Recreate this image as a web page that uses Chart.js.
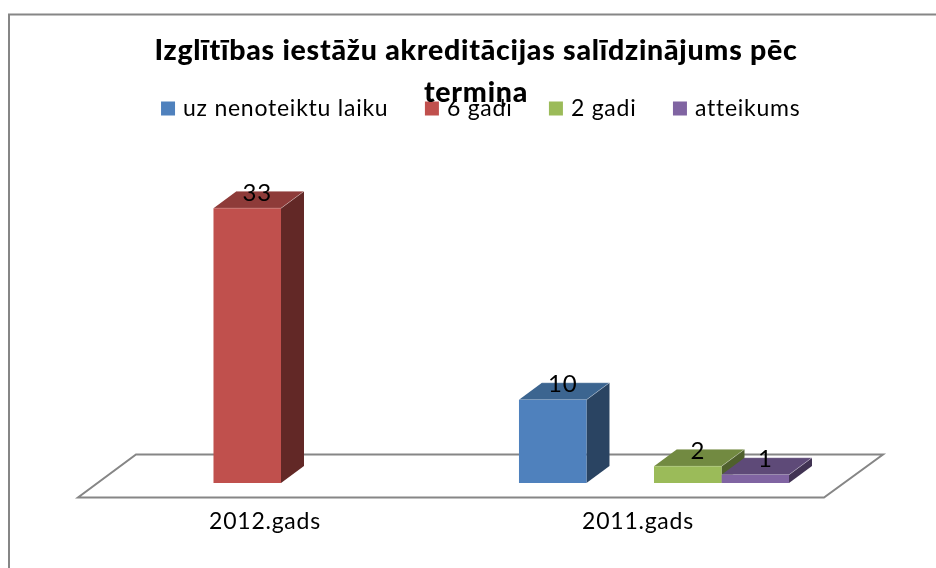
<!DOCTYPE html>
<html><head><meta charset="utf-8">
<style>html,body{margin:0;padding:0;background:#fff}canvas{display:block}</style>
<script src="https://cdn.jsdelivr.net/npm/chart.js@4"></script>
</head><body><canvas id="c" width="936" height="568"></canvas>
<script>
const categories = ["2012.gads", "2011.gads"];
const seriesNames = ["uz nenoteiktu laiku", "6 gadi", "2 gadi", "atteikums"];
const valuesIndefinite = [null, 10];
const valuesSixYears = [33, null];
const valuesTwoYears = [null, 2];
const valuesRefused = [null, 1];
const chartTitle = ["Izglītības iestāžu akreditācijas salīdzinājums pēc", "termiņa"];

const frontColors = ["#4F81BD", "#C0504D", "#9BBB59", "#8064A2"];
const topColors = ["#3C6590", "#8E3B39", "#728A41", "#5E4A78"];
const sideColors = ["#2A4462", "#622826", "#4F602D", "#413353"];
const DEPTH_X = 23, DEPTH_Y = 17;
const FONT = "Lato, Carlito, 'Noto Sans', sans-serif";

const poly = (ctx, pts, fill) => {
  ctx.beginPath();
  pts.forEach((p, i) => i ? ctx.lineTo(p[0], p[1]) : ctx.moveTo(p[0], p[1]));
  ctx.closePath();
  ctx.fillStyle = fill;
  ctx.fill();
};

const offsets = {
  id: "offsets",
  beforeLayout(chart) {
    chart.ctx.letterSpacing = "0.75px";
  },
  afterLayout(chart) {
    chart.titleBlock.left += 8.5; chart.titleBlock.right += 8.5;
    chart.legend.left += 15; chart.legend.right += 15;
  }
};

const frame = {
  id: "frame",
  beforeDraw(chart) {
    const ctx = chart.ctx;
    ctx.save();
    ctx.strokeStyle = "#868686";
    ctx.lineWidth = 2;
    ctx.beginPath();
    ctx.moveTo(9, 568); ctx.lineTo(9, 14.5); ctx.lineTo(936, 14.5);
    ctx.stroke();
    ctx.restore();
  }
};

const box3d = {
  id: "box3d",
  beforeDatasetsDraw(chart) {
    const ctx = chart.ctx, xs = chart.scales.x, base = chart.scales.y.bottom;
    ctx.save();
    ctx.strokeStyle = "#868686";
    ctx.lineWidth = 2;
    ctx.beginPath();
    ctx.moveTo(xs.left - 16.5, base + 14.5);
    ctx.lineTo(xs.right - 16.5, base + 14.5);
    ctx.lineTo(xs.right + 42.5, base - 28.5);
    ctx.lineTo(xs.left + 41.5, base - 28.5);
    ctx.closePath();
    ctx.stroke();
    chart.data.datasets.forEach((ds, i) => {
      chart.getDatasetMeta(i).data.forEach((el, j) => {
        if (ds.data[j] == null) return;
        const l = el.x - el.width / 2, r = el.x + el.width / 2, t = el.y, b = el.base;
        poly(ctx, [[r, t], [r + DEPTH_X, t - DEPTH_Y], [r + DEPTH_X, b - DEPTH_Y], [r, b]], sideColors[i]);
        poly(ctx, [[l, t], [r, t], [r + DEPTH_X, t - DEPTH_Y], [l + DEPTH_X, t - DEPTH_Y]], topColors[i]);
        ctx.strokeStyle = "rgba(255,255,255,0.3)";
        ctx.lineWidth = 1;
        ctx.beginPath();
        ctx.moveTo(l, t); ctx.lineTo(r, t);
        ctx.lineTo(r + DEPTH_X, t - DEPTH_Y); ctx.lineTo(l + DEPTH_X, t - DEPTH_Y);
        ctx.stroke();
      });
    });
    ctx.restore();
  },
  afterDatasetsDraw(chart) {
    const ctx = chart.ctx;
    ctx.save();
    ctx.font = "24px " + FONT;
    ctx.fillStyle = "#000";
    ctx.textAlign = "center";
    ctx.textBaseline = "middle";
    chart.data.datasets.forEach((ds, i) => {
      chart.getDatasetMeta(i).data.forEach((el, j) => {
        if (ds.data[j] == null) return;
        ctx.fillText(String(ds.data[j]), el.x + 10, el.y - 15);
      });
    });
    ctx.restore();
  }
};

const allValues = [valuesIndefinite, valuesSixYears, valuesTwoYears, valuesRefused];
new Chart(document.getElementById("c"), {
  type: "bar",
  data: {
    labels: categories,
    datasets: seriesNames.map((name, i) => ({
      label: name,
      data: allValues[i],
      backgroundColor: frontColors[i],
      borderWidth: 0,
      categoryPercentage: 0.724,
      barPercentage: 1
    }))
  },
  plugins: [offsets, frame, box3d],
  options: {
    responsive: false,
    animation: false,
    layout: { padding: { left: 94.5, right: 95.5, top: 0, bottom: 0 } },
    plugins: {
      tooltip: { enabled: false },
      title: {
        display: true,
        text: chartTitle,
        color: "#000",
        font: { family: FONT, size: 28.5, weight: 900, lineHeight: 1.46 },
        padding: { top: 30, bottom: -56.2 }
      },
      legend: {
        display: true,
        position: "top",
        labels: {
          color: "#000",
          font: { family: FONT, size: 23 },
          boxWidth: 7,
          boxHeight: 7,
          padding: 40,
          generateLabels(chart) {
            return Chart.defaults.plugins.legend.labels.generateLabels(chart).map(item => ({
              ...item, lineWidth: 7, strokeStyle: item.fillStyle
            }));
          }
        }
      }
    },
    scales: {
      x: {
        grid: { display: false },
        border: { display: false },
        afterFit(s) { s.height = 85; },
        ticks: { color: "#000", font: { family: FONT, size: 23 }, labelOffset: -16, padding: 17, maxRotation: 0 }
      },
      y: { display: false, min: 0, max: 42.4 }
    }
  }
});
</script></body></html>
